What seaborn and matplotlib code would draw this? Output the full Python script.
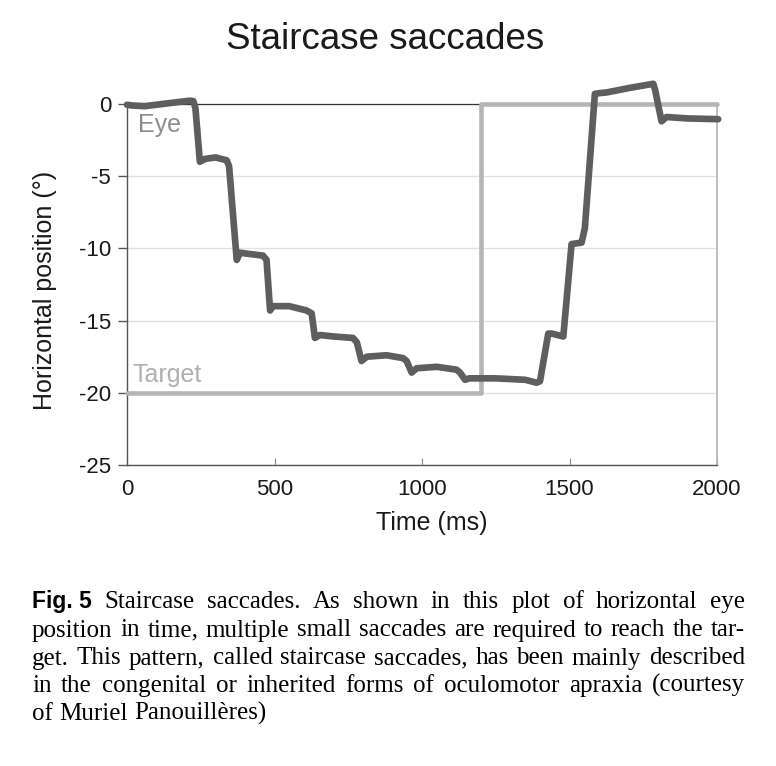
import matplotlib
matplotlib.use('Agg')
import pandas as pd
import matplotlib.pyplot as plt
import seaborn as sns

# eye trace (time in ms, position in degrees)
eye_time = [0, 15, 60, 120, 180, 213, 225, 232, 247, 265, 300, 338, 346, 372,
            383, 420, 461, 473, 485, 495, 550, 609, 626, 637, 654, 700, 766,
            779, 795, 813, 880, 936, 948, 965, 982, 1050, 1117, 1129, 1146,
            1160, 1250, 1350, 1388, 1400, 1428, 1440, 1479, 1507, 1541, 1552,
            1586, 1600, 1626, 1700, 1784, 1790, 1812, 1829, 1900, 2004]
eye_pos = [-0.05, -0.1, -0.15, 0.0, 0.15, 0.23, 0.2, -0.3, -4.0, -3.8, -3.7,
           -3.9, -4.3, -10.8, -10.3, -10.4, -10.5, -10.8, -14.3, -14.0, -14.0,
           -14.3, -14.5, -16.2, -16.0, -16.1, -16.2, -16.5, -17.8, -17.5, -17.4,
           -17.6, -17.8, -18.6, -18.3, -18.2, -18.4, -18.6, -19.1, -19.0, -19.0,
           -19.1, -19.3, -19.2, -15.9, -15.9, -16.1, -9.7, -9.6, -8.6, 0.7,
           0.75, 0.8, 1.1, 1.4, 1.0, -1.2, -0.9, -1.0, -1.05]

# target step
target_time = [0, 1200, 1200, 2000]
target_pos = [-20, -20, 0, 0]

x_ticks = [0, 500, 1000, 1500, 2000]
y_ticks = [0, -5, -10, -15, -20, -25]

caption_lead = 'Fig. 5'
caption_lines = [
    'Staircase saccades. As shown in this plot of horizontal eye',
    'position in time, multiple small saccades are required to reach the tar-',
    'get. This pattern, called staircase saccades, has been mainly described',
    'in the congenital or inherited forms of oculomotor apraxia (courtesy',
    'of Muriel Panouillères)',
]

sns.set_theme(style='white')
plt.rcParams['font.family'] = ['Liberation Sans', 'DejaVu Sans']

W, H = 776, 766
fig = plt.figure(figsize=(W / 100, H / 100), dpi=100)
ax = fig.add_axes([127 / W, 1 - 465 / H, 590 / W, 361 / H])

eye = pd.DataFrame({'time': eye_time, 'pos': eye_pos})
target = pd.DataFrame({'time': target_time, 'pos': target_pos})

sns.lineplot(data=target, x='time', y='pos', estimator=None, sort=False,
             color='#b5b5b5', linewidth=3.3, ax=ax, clip_on=False, zorder=3)
sns.lineplot(data=eye, x='time', y='pos', estimator=None, sort=False,
             color='#5e5e5e', linewidth=4.8, ax=ax, clip_on=False, zorder=4,
             solid_joinstyle='round', solid_capstyle='round')

ax.set_xlim(0, 2000)
ax.set_ylim(-25, 0)
ax.set_xticks(x_ticks)
ax.set_yticks(y_ticks)
ax.set_yticklabels([str(v) for v in y_ticks])

ax.set_axisbelow(True)
ax.yaxis.grid(True, color='#e2e2e2', linewidth=1)
ax.xaxis.grid(False)

for side in ['left', 'bottom']:
    ax.spines[side].set_color('#555555')
    ax.spines[side].set_linewidth(1)
ax.spines['top'].set_color('#333333')
ax.spines['top'].set_linewidth(0.9)
ax.spines['right'].set_color('#b8b8b8')
ax.spines['right'].set_linewidth(1.3)

ax.tick_params(axis='y', direction='out', length=6.5, width=1, color='#555555',
               pad=5, labelsize=16, labelcolor='#1a1a1a', left=True)
ax.tick_params(axis='x', direction='in', length=5, width=0.8, color='#888888',
               pad=10, labelsize=16, labelcolor='#1a1a1a', bottom=True)

ax.set_xlabel('Time (ms)', fontsize=18, color='#1a1a1a')
ax.set_ylabel('Horizontal position (°)', fontsize=18, color='#1a1a1a')
ax.xaxis.set_label_coords(0.516, -0.128)
ax.yaxis.set_label_coords(-0.119, 0.483)

ax.text(37, -1.92, 'Eye', fontsize=18, color='#8c8c8c', va='baseline')
ax.text(20, -19.23, 'Target', fontsize=18, color='#b0b0b0', va='baseline')

fig.text(385 / W, 1 - 49 / H, 'Staircase saccades', fontsize=26.5,
         color='#1a1a1a', ha='center', va='baseline')

# caption, justified between two margins
fig.canvas.draw()
rend = fig.canvas.get_renderer()
lead_kw = dict(family='Liberation Sans', weight='bold', fontsize=16.5, color='black')


def text_width(s, kw):
    t = fig.text(0, 0, s, **kw)
    w = t.get_window_extent(rend).width
    t.remove()
    return w


left_px, right_px = 32, 745
baselines = [608, 636.5, 664.5, 692, 720]
min_gap = 3
serif_kw = dict(family='Liberation Serif', fontsize=18, color='black')
widest = 0
for i, line in enumerate(caption_lines[:-1]):
    words = line.split()
    w = sum(text_width(x, serif_kw) for x in words) + min_gap * (len(words) - 1)
    if i == 0:
        w += text_width(caption_lead, lead_kw) + min_gap
    widest = max(widest, w)
if widest > right_px - left_px:
    serif_kw['fontsize'] = 18 * (right_px - left_px) / widest

for i, line in enumerate(caption_lines):
    items = [(x, serif_kw) for x in line.split()]
    if i == 0:
        items = [(caption_lead, lead_kw)] + items
    widths = [text_width(s, kw) for s, kw in items]
    if i < len(caption_lines) - 1:
        gap = (right_px - left_px - sum(widths)) / (len(items) - 1)
    else:
        gap = text_width('a a', serif_kw) - 2 * text_width('a', serif_kw)
    x = left_px
    for (s, kw), w in zip(items, widths):
        fig.text(x / W, 1 - baselines[i] / H, s, va='baseline', ha='left', **kw)
        x += w + gap

fig.savefig('out.png', dpi=100)
